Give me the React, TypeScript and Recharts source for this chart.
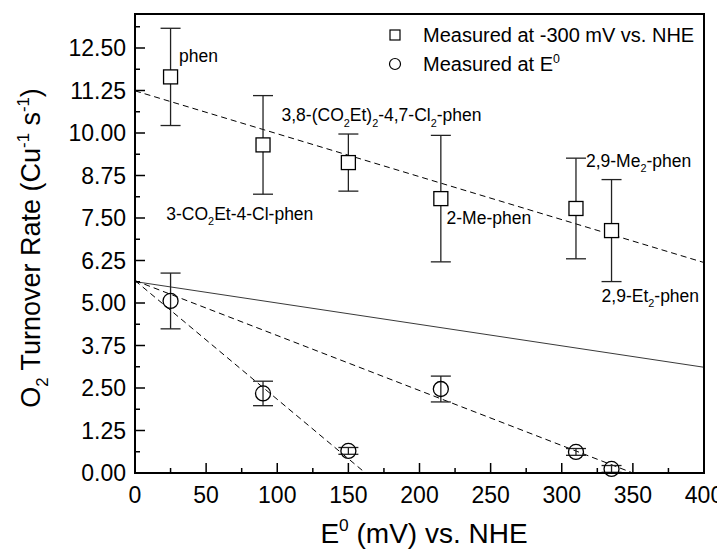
import React from 'react';
import {
  ComposedChart, Scatter, Line, XAxis, YAxis, ErrorBar, Legend, ReferenceArea,
} from 'recharts';

// ---------- data ----------
const potentials = [25, 90, 150, 215, 310, 335];
const rateAtMinus300 = [11.65, 9.65, 9.13, 8.07, 7.78, 7.13];
const rateAtMinus300Err = [1.43, 1.45, 0.84, 1.86, 1.48, 1.5];
const rateAtE0 = [5.06, 2.34, 0.65, 2.47, 0.62, 0.12];
const rateAtE0Err = [0.82, 0.36, 0.1, 0.38, 0.1, 0.1];

const fitUpperX = [0, 400];
const fitUpperY = [11.24, 6.19];
const fitSolidX = [0, 400];
const fitSolidY = [5.63, 3.11];
const fitMidX = [0, 350];
const fitMidY = [5.66, 0];
const fitSteepX = [0, 162];
const fitSteepY = [5.66, 0];

const ligandNames = [
  'phen',
  '3,8-(CO_2Et)_2-4,7-Cl_2-phen',
  '3-CO_2Et-4-Cl-phen',
  '2-Me-phen',
  '2,9-Me_2-phen',
  '2,9-Et_2-phen',
];
const ligandLabelX = [31, 103, 22, 219, 317, 328];
const ligandLabelY = [12.28, 10.53, 7.63, 7.51, 9.18, 5.22];

const xDomain = [0, 400];
const yDomain = [0, 13.5];
const xMajorTicks = [0, 50, 100, 150, 200, 250, 300, 350, 400];
const xMinorTicks = [25, 75, 125, 175, 225, 275, 325, 375];
const yMajorTicks = [0, 1.25, 2.5, 3.75, 5, 6.25, 7.5, 8.75, 10, 11.25, 12.5];
const yMinorTicks = [0.625, 1.875, 3.125, 4.375, 5.625, 6.875, 8.125, 9.375, 10.625, 11.875, 13.125];

const legendLabels = ['Measured at -300 mV vs. NHE', 'Measured at E^0'];
const xTitle = 'E^0 (mV) vs. NHE';
const yTitleSegs: Array<[string, string]> = [
  ['O', ''],
  ['2', 'sub'],
  [' Turnover Rate (Cu', ''],
  ['-1', 'sup'],
  [' s', ''],
  ['-1', 'sup'],
  [')', ''],
];

// ---------- derived tables ----------
const squares = potentials.map((x, i) => ({ x, y: rateAtMinus300[i], err: rateAtMinus300Err[i] }));
const circles = potentials.map((x, i) => ({ x, y: rateAtE0[i], err: rateAtE0Err[i] }));
const toLine = (xs: number[], ys: number[]) => xs.map((x, i) => ({ x, y: ys[i] }));
const fitUpper = toLine(fitUpperX, fitUpperY);
const fitSolid = toLine(fitSolidX, fitSolidY);
const fitMid = toLine(fitMidX, fitMidY);
const fitSteep = toLine(fitSteepX, fitSteepY);
const annotations = ligandNames.map((t, i) => ({ x: ligandLabelX[i], y: ligandLabelY[i], text: t }));
const allXTicks = [...xMajorTicks, ...xMinorTicks].sort((a, b) => a - b);
const allYTicks = [...yMajorTicks, ...yMinorTicks].sort((a, b) => a - b);

const FONT = '"Liberation Sans", Arial, Helvetica, sans-serif';
const isIn = (arr: number[], v: number) => arr.some((a) => Math.abs(a - v) < 1e-6);
const MAJOR = 10;
const MINOR = 5;
const W = 717;
const H = 544;
const MARGIN = { top: 5, right: 20, bottom: 78, left: 126 };
// plot rectangle (axes of size 1 on each side)
const PLOT = {
  left: MARGIN.left + 1,
  right: W - MARGIN.right - 1,
  top: MARGIN.top + 1,
  bottom: H - MARGIN.bottom - 1,
};
const sx = (v: number) => PLOT.left + ((v - xDomain[0]) / (xDomain[1] - xDomain[0])) * (PLOT.right - PLOT.left);
const sy = (v: number) => PLOT.bottom - ((v - yDomain[0]) / (yDomain[1] - yDomain[0])) * (PLOT.bottom - PLOT.top);

function richSegments(s: string): Array<[string, string]> {
  const segs: Array<[string, string]> = [];
  let buf = '';
  for (let i = 0; i < s.length; i++) {
    const c = s[i];
    if ((c === '_' || c === '^') && i + 1 < s.length) {
      if (buf) segs.push([buf, '']);
      buf = '';
      segs.push([s[i + 1], c === '_' ? 'sub' : 'sup']);
      i++;
    } else buf += c;
  }
  if (buf) segs.push([buf, '']);
  return segs;
}

function Rich({ text, fontSize, segs }: { text?: string; fontSize: number; segs?: Array<[string, string]> }) {
  const list = segs || richSegments(text || '');
  let shift = 0;
  return (
    <>
      {list.map(([t, k], i) => {
        const target = k === 'sub' ? fontSize * 0.3 : k === 'sup' ? -fontSize * 0.42 : 0;
        const dy = target - shift;
        shift = target;
        return (
          <tspan key={i} dy={dy} fontSize={k ? fontSize * 0.62 : fontSize}>
            {t}
          </tspan>
        );
      })}
    </>
  );
}

// ---------- tick renderers ----------
const renderBottomTick = (props: any) => {
  const x = Number(props.x);
  const y = Number(props.y);
  const v = props.payload.value;
  const major = isIn(xMajorTicks, v);
  return (
    <g key={`b-${v}`}>
      {major && (
        <text x={x} y={y + 30} textAnchor="middle" fontSize={23} fontFamily={FONT} fill="#000">
          {v}
        </text>
      )}
    </g>
  );
};
const renderLeftTick = (props: any) => {
  const x = Number(props.x);
  const y = Number(props.y);
  const v = props.payload.value;
  const major = isIn(yMajorTicks, v);
  return (
    <g key={`l-${v}`}>
      {major && (
        <text x={x - 9} y={y + 8} textAnchor="end" fontSize={23} fontFamily={FONT} fill="#000">
          {v.toFixed(2)}
        </text>
      )}
    </g>
  );
};
const renderTopTick = (props: any) => {
  const x = Number(props.x);
  const y = Number(props.y);
  const len = isIn(xMajorTicks, props.payload.value) ? MAJOR : MINOR;
  return <path key={`t-${props.payload.value}`} d={`M${x},${y}L${x},${y + len}`} stroke="#000" strokeWidth={1.5} fill="none" />;
};
const renderRightTick = (props: any) => {
  const x = Number(props.x);
  const y = Number(props.y);
  const len = isIn(yMajorTicks, props.payload.value) ? MAJOR : MINOR;
  return <path key={`r-${props.payload.value}`} d={`M${x},${y}L${x - len},${y}`} stroke="#000" strokeWidth={1.5} fill="none" />;
};

// ---------- shapes ----------
const SquareShape = (props: any) => {
  const { cx, cy } = props;
  return <rect x={cx - 7} y={cy - 7} width={14} height={14} fill="#fff" stroke="#000" strokeWidth={1.3} />;
};
const CircleShape = (props: any) => {
  const { cx, cy } = props;
  return <circle cx={cx} cy={cy} r={7.5} fill="none" stroke="#000" strokeWidth={1.3} />;
};
const LABEL_FS = 17.5;
const AnnotationShape = (props: any) => {
  const { cx, cy, payload } = props;
  return (
    <text x={cx} y={cy + LABEL_FS * 0.36} fontSize={LABEL_FS} fontFamily={FONT} fill="#000">
      <Rich text={payload.text} fontSize={LABEL_FS} />
    </text>
  );
};

// legend, axis titles and inward left/bottom tick marks overlay
const Overlay = () => {
  const ycx = 32;
  const ycy = 240;
  return (
    <svg width={W} height={H} style={{ display: 'block', overflow: 'visible' }}>
      {allXTicks.map((v) => (
        <path
          key={`bx-${v}`}
          d={`M${sx(v)},${PLOT.bottom}L${sx(v)},${PLOT.bottom - (isIn(xMajorTicks, v) ? MAJOR : MINOR)}`}
          stroke="#000"
          strokeWidth={1.5}
          fill="none"
        />
      ))}
      {allYTicks.map((v) => (
        <path
          key={`ly-${v}`}
          d={`M${PLOT.left},${sy(v)}L${PLOT.left + (isIn(yMajorTicks, v) ? MAJOR : MINOR)},${sy(v)}`}
          stroke="#000"
          strokeWidth={1.5}
          fill="none"
        />
      ))}
      <rect x={382} y={22} width={10} height={10} fill="#fff" stroke="#000" strokeWidth={1.2} />
      <text x={415} y={34} fontSize={20} fontFamily={FONT} fill="#000">{legendLabels[0]}</text>
      <circle cx={387} cy={56} r={5.5} fill="none" stroke="#000" strokeWidth={1.2} />
      <text x={415} y={63} fontSize={20} fontFamily={FONT} fill="#000">
        <Rich text={legendLabels[1]} fontSize={20} />
      </text>
      <text x={416} y={535} textAnchor="middle" fontSize={28} fontFamily={FONT} fill="#000">
        <Rich text={xTitle} fontSize={28} />
      </text>
      <text x={ycx} y={ycy} textAnchor="middle" fontSize={27} fontFamily={FONT} fill="#000" transform={`rotate(-90 ${ycx} ${ycy})`}>
        <Rich fontSize={27} segs={yTitleSegs} />
      </text>
    </svg>
  );
};

const frameLine = { stroke: '#000', strokeWidth: 2 };

export default function App() {
  return (
    <div style={{ width: W, height: H, fontFamily: FONT, position: 'relative' }}>
      <ComposedChart width={W} height={H} margin={MARGIN}>
        <XAxis xAxisId="b" orientation="bottom" dataKey="x" type="number" domain={xDomain} ticks={allXTicks} interval={0} tickSize={0} tickMargin={0} tick={renderBottomTick} height={1} axisLine={frameLine} />
        <XAxis xAxisId="t" orientation="top" dataKey="x" type="number" domain={xDomain} ticks={allXTicks} interval={0} tickSize={0} tickMargin={0} tick={renderTopTick} height={1} axisLine={frameLine} />
        <YAxis yAxisId="l" orientation="left" dataKey="y" type="number" domain={yDomain} ticks={allYTicks} interval={0} tickSize={0} tickMargin={0} tick={renderLeftTick} width={1} axisLine={frameLine} />
        <YAxis yAxisId="r" orientation="right" dataKey="y" type="number" domain={yDomain} ticks={allYTicks} interval={0} tickSize={0} tickMargin={0} tick={renderRightTick} width={1} axisLine={frameLine} />
        <Legend
          layout="horizontal"
          verticalAlign="middle"
          align="center"
          content={<Overlay />}
          wrapperStyle={{ position: 'absolute', left: 0, top: 0, width: W, height: H, pointerEvents: 'none' }}
        />
        <ReferenceArea xAxisId="b" yAxisId="l" x1={0} x2={400} y1={0} y2={13.5} fill="none" stroke="#000" strokeWidth={2} ifOverflow="visible" />
        <Line xAxisId="b" yAxisId="l" data={fitUpper} dataKey="y" type="linear" stroke="#000" strokeWidth={1} strokeDasharray="6 4" dot={false} activeDot={false} isAnimationActive={false} legendType="none" />
        <Line xAxisId="b" yAxisId="l" data={fitSolid} dataKey="y" type="linear" stroke="#222" strokeWidth={0.9} dot={false} activeDot={false} isAnimationActive={false} legendType="none" />
        <Line xAxisId="b" yAxisId="l" data={fitMid} dataKey="y" type="linear" stroke="#000" strokeWidth={1} strokeDasharray="6 4" dot={false} activeDot={false} isAnimationActive={false} legendType="none" />
        <Line xAxisId="b" yAxisId="l" data={fitSteep} dataKey="y" type="linear" stroke="#000" strokeWidth={1} strokeDasharray="6 4" dot={false} activeDot={false} isAnimationActive={false} legendType="none" />
        <Scatter xAxisId="b" yAxisId="l" data={squares} dataKey="y" shape={<SquareShape />} isAnimationActive={false}>
          <ErrorBar dataKey="err" direction="y" width={10} stroke="#222" strokeWidth={1.3} isAnimationActive={false} />
        </Scatter>
        <Scatter xAxisId="b" yAxisId="l" data={circles} dataKey="y" shape={<CircleShape />} isAnimationActive={false}>
          <ErrorBar dataKey="err" direction="y" width={10} stroke="#222" strokeWidth={1.3} isAnimationActive={false} />
        </Scatter>
        <Scatter xAxisId="b" yAxisId="l" data={annotations} dataKey="y" shape={<AnnotationShape />} isAnimationActive={false} legendType="none" />
      </ComposedChart>
    </div>
  );
}
